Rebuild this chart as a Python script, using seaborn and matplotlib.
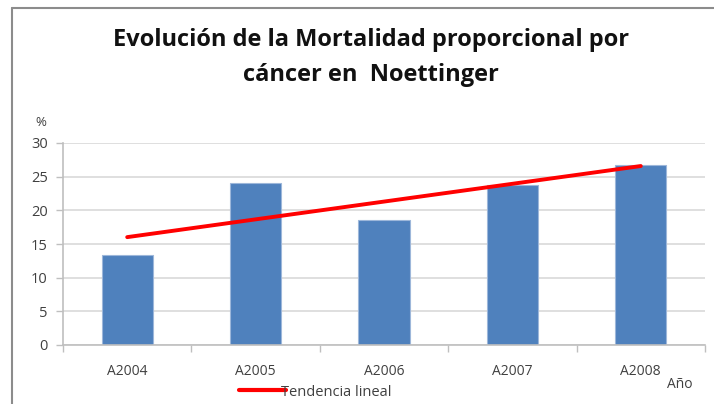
import numpy as np
import pandas as pd
import matplotlib
matplotlib.use("Agg")
import matplotlib.pyplot as plt
import seaborn as sns
from matplotlib.lines import Line2D

# Datos
anios = ["A2004", "A2005", "A2006", "A2007", "A2008"]
mortalidad = [13.4, 24.1, 18.5, 23.7, 26.8]
ticks_y = [0, 5, 10, 15, 20, 25, 30]

COLOR_BARRA = "#4F81BD"
COLOR_TENDENCIA = "#FF0000"
COLOR_GRID = "#D9D9D9"
COLOR_TEXTO = "#404040"

sns.set_theme(style="white")
plt.rcParams["font.family"] = ["Open Sans", "DejaVu Sans"]

df = pd.DataFrame({"Anio": anios, "Mortalidad": mortalidad, "pos": np.arange(len(anios))})

fig = plt.figure(figsize=(7.14, 4.04), dpi=100)
ax = fig.add_axes([63 / 714, 1 - 345 / 404, (705 - 63) / 714, (345 - 143) / 404])

# Barras
sns.barplot(data=df, x="Anio", y="Mortalidad", color=COLOR_BARRA, width=0.4,
            edgecolor="#9DB7DA", linewidth=0.8, saturation=1, ax=ax, zorder=2)

# Tendencia lineal (ajuste por mínimos cuadrados)
sns.regplot(data=df, x="pos", y="Mortalidad", scatter=False, ci=None, truncate=True,
            line_kws={"color": COLOR_TENDENCIA, "lw": 2.8, "zorder": 3}, ax=ax)

ax.set_xlim(-0.5, len(anios) - 0.5)
ax.set_ylim(0, 30)
ax.set_yticks(ticks_y)
ax.set_xlabel("")
ax.set_ylabel("")
ax.grid(axis="y", color=COLOR_GRID, lw=1.2, zorder=0)
ax.set_axisbelow(True)

for lado in ["top", "right"]:
    ax.spines[lado].set_visible(False)
for lado in ["left", "bottom"]:
    ax.spines[lado].set_color("#BFBFBF")
    ax.spines[lado].set_linewidth(1.2)

ax.set_xticks(np.arange(-0.5, len(anios)), minor=True)
ax.tick_params(axis="x", which="major", length=0, pad=14, labelsize=10, labelcolor=COLOR_TEXTO)
ax.tick_params(axis="x", which="minor", length=5, width=1, color="#BFBFBF", direction="out", bottom=True)
ax.tick_params(axis="y", length=5, width=1, color="#BFBFBF", direction="out", left=True,
               labelsize=10.5, labelcolor=COLOR_TEXTO, pad=6)

# Títulos y etiquetas
fig.text(371 / 714, 1 - 40 / 404, "Evolución de la Mortalidad proporcional por",
         ha="center", va="center", fontsize=17, fontweight="bold", color="#111111")
fig.text(371 / 714, 1 - 75 / 404, "cáncer en  Noettinger",
         ha="center", va="center", fontsize=17, fontweight="bold", color="#111111")
fig.text(41 / 714, 1 - 123 / 404, "%", ha="center", va="center", fontsize=9.5, color=COLOR_TEXTO)
fig.text(680 / 714, 1 - 384 / 404, "Año", ha="center", va="center", fontsize=10, color=COLOR_TEXTO)

# Leyenda
ax.legend(handles=[Line2D([0], [0], color=COLOR_TENDENCIA, lw=3)], labels=["Tendencia lineal"],
          loc="center left", bbox_to_anchor=(226 / 714, 1 - 392 / 404),
          bbox_transform=fig.transFigure, frameon=False, fontsize=10.5,
          handlelength=3.2, handletextpad=-0.3, labelcolor=COLOR_TEXTO)

# Marco exterior
fig.add_artist(Line2D([12 / 714, 12 / 714], [0, 1 - 8 / 404], transform=fig.transFigure,
                      color="#8C8C8C", lw=1.5))
fig.add_artist(Line2D([12 / 714, 1], [1 - 8 / 404, 1 - 8 / 404], transform=fig.transFigure,
                      color="#8C8C8C", lw=1.5))

fig.savefig("out.png", dpi=100)
